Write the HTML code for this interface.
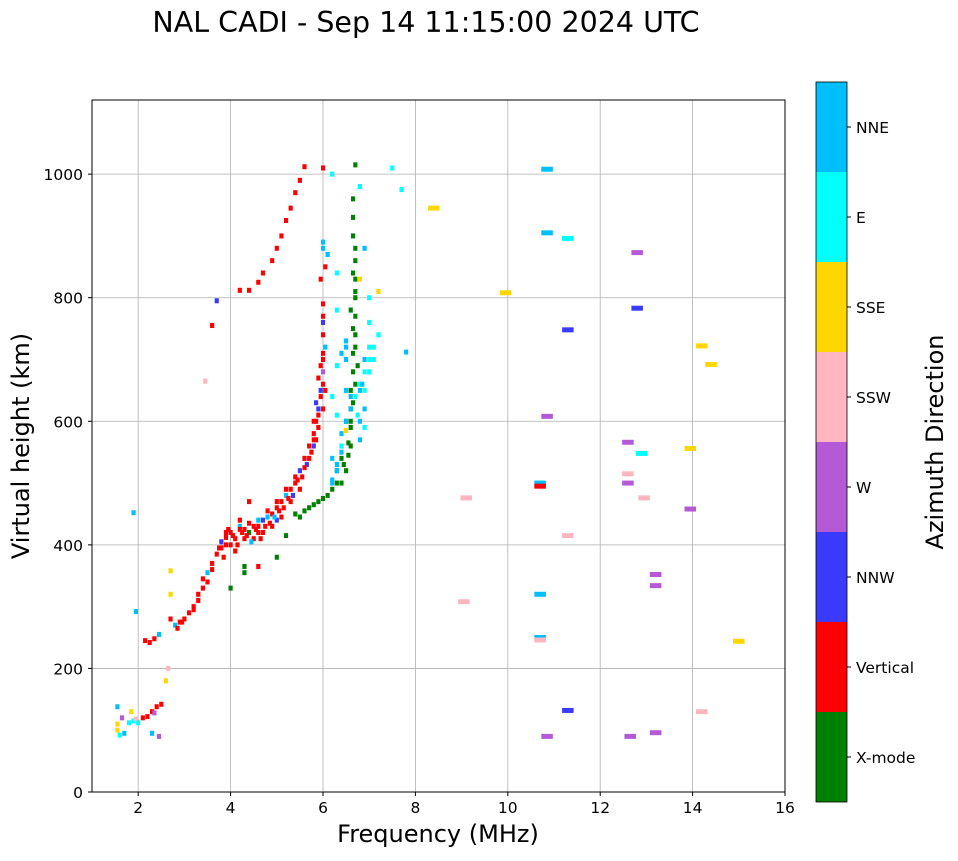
<!DOCTYPE html>
<html><head><meta charset="utf-8">
<style>
body{margin:0;background:#fff;font-family:"DejaVu Sans","Liberation Sans",sans-serif;}
svg text{font-family:"DejaVu Sans","Liberation Sans",sans-serif;}
</style></head>
<body>
<svg id="chart" width="958" height="857" viewBox="0 0 958 857" xmlns="http://www.w3.org/2000/svg">
<rect width="958" height="857" fill="#fff"/>
<text x="426" y="32" font-size="28.5" text-anchor="middle">NAL CADI - Sep 14 11:15:00 2024 UTC</text>
<g id="grid"></g>
<g id="marks"></g>
<rect x="92" y="100" width="693" height="692" fill="none" stroke="#000" stroke-width="1"/>
<g id="axes"></g>
<text x="438" y="842" font-size="24" text-anchor="middle">Frequency (MHz)</text>
<text transform="translate(29,446) rotate(-90)" font-size="24" text-anchor="middle">Virtual height (km)</text>
<g id="cbar"></g>
<text transform="translate(943,442) rotate(-90)" font-size="24" text-anchor="middle">Azimuth Direction</text>
</svg>
<script>
const dirNames=["X-mode","Vertical","NNW","W","SSW","SSE","E","NNE"];
const dirColors=["#008000","#ff0000","#3a3aff","#b55ad6","#ffb6c1","#ffd700","#00ffff","#00bfff"];
const xTicks=[2,4,6,8,10,12,14,16];
const yTicks=[0,200,400,600,800,1000];
const freqs=[1.55,1.55,1.6,1.55,1.65,1.7,1.8,1.9,1.95,2.1,2.2,2.3,2.4,2.5,2.35,2.3,2.45,1.85,2.0,
2.15,2.25,2.35,2.45,2.7,2.8,2.9,3.0,3.1,3.2,3.3,3.4,3.5,3.6,3.7,3.75,3.8,3.9,4.0,4.1,4.2,4.3,4.4,4.5,4.6,4.7,4.8,4.9,5.0,5.1,5.2,5.3,5.4,5.5,5.6,5.7,5.8,5.85,5.9,5.95,6.0,6.0,6.0,6.05,6.0,6.0,6.0,5.95,6.0,6.0,
3.9,4.1,4.3,4.5,4.7,4.9,5.1,5.3,5.5,3.85,4.6,4.2,5.0,5.7,5.8,5.9,6.0,
3.7,3.6,4.2,4.4,4.6,4.7,4.9,5.0,5.1,5.2,5.3,5.4,5.5,5.6,
4.0,4.3,4.3,4.6,5.0,4.4,5.2,
5.4,5.6,5.8,6.0,6.2,6.4,6.5,6.55,6.6,6.6,6.6,6.6,6.65,6.65,6.7,6.7,6.7,6.7,6.7,6.65,6.65,6.65,6.7,6.4,6.5,6.3,
6.2,6.3,6.2,6.4,6.3,6.2,6.5,6.5,6.5,6.3,6.9,6.9,7.0,7.1,7.2,7.0,6.9,6.8,6.8,6.9,6.8,7.0,6.3,6.3,6.2,6.8,7.5,7.7,7.2,7.8,6.8,6.5,6.4,6.1,6.0,
3.95,4.05,4.15,4.25,4.35,4.45,4.55,4.65,4.75,4.85,4.95,5.05,5.15,5.25,5.35,5.45,5.55,5.65,5.75,5.85,5.9,5.95,
3.8,3.9,4.0,4.2,4.4,4.6,4.8,5.0,5.2,5.4,5.6,5.8,3.6,3.5,3.4,3.3,3.2,2.95,2.85,
5.5,5.7,5.9,6.1,6.3,6.45,6.55,6.6,6.65,6.7,6.75,6.7,6.65,6.6,6.7,6.65,6.7,
6.2,6.3,6.4,6.5,6.6,6.7,6.8,6.9,7.0,7.1,6.4,6.5,6.6,6.9,7.0,6.85,6.75,
5.9,5.95,6.0,6.05,5.85,5.8,6.0,6.05,
1.9,1.95,2.6,2.65,2.7,2.7,3.45,8.4,9.95,10.85,10.85,11.3,12.8,12.8,11.3,10.85,10.7,10.7,9.1,9.05,10.7,10.7,10.7,11.3,10.85,11.3,12.6,12.9,12.6,12.6,12.95,13.2,13.2,13.95,13.95,14.2,14.4,15.0,14.2,12.65,13.2];
const heights=[100,110,92,138,120,95,112,115,118,120,122,130,138,142,128,95,90,130,112,
245,242,248,255,280,270,275,280,290,300,320,345,355,370,385,395,405,412,420,410,430,425,420,430,420,440,445,450,460,470,480,490,500,520,540,560,580,600,620,640,660,680,700,720,740,760,790,830,880,1010,
400,390,410,410,420,430,445,470,490,380,440,440,440,540,560,590,620,
795,755,812,812,825,840,860,880,900,925,945,970,990,1012,
330,355,365,365,380,470,415,
450,455,465,475,490,500,520,545,560,590,620,650,680,710,740,770,800,830,860,900,930,960,1015,540,600,520,
505,520,540,580,610,640,650,700,720,690,620,650,680,700,740,760,590,600,650,880,830,800,780,840,1000,980,1010,975,810,712,570,585,560,870,890,
425,415,400,420,415,405,425,410,430,435,445,455,460,475,480,505,510,530,550,570,610,650,
395,420,400,425,435,430,455,470,490,510,525,570,360,340,330,310,295,275,265,
445,460,470,480,500,530,565,600,630,660,690,720,750,780,810,840,880,
500,530,550,600,620,640,660,680,700,720,710,730,640,700,720,660,610,
670,690,710,650,630,600,770,850,
452,292,180,200,358,320,665,945,808,1008,905,896,873,783,748,608,500,495,476,308,320,250,246,132,90,415,566,548,515,500,476,352,334,556,458,722,692,244,130,90,96];
const dirs=[5,5,6,7,3,7,6,6,4,1,1,1,1,1,3,7,3,5,6,
1,1,1,7,1,7,1,1,1,1,1,1,7,1,1,1,2,1,1,1,7,1,0,1,1,2,7,1,1,1,7,1,1,2,1,1,1,1,2,1,1,3,1,7,1,2,1,1,7,1,
1,1,1,1,1,1,1,1,1,1,7,1,2,1,2,1,1,
2,1,1,1,1,1,1,1,1,1,1,1,1,1,
0,0,0,1,0,1,0,
0,0,0,0,0,0,0,0,0,0,0,0,0,0,0,0,0,0,0,0,0,0,0,0,0,0,
7,7,7,7,6,6,7,7,7,6,7,6,6,6,6,6,6,7,7,7,5,6,6,6,6,6,6,6,5,7,7,5,6,7,7,
1,1,1,1,1,7,1,1,1,1,7,1,1,1,2,1,1,2,1,1,1,2,
1,1,1,1,1,1,1,1,1,1,1,1,1,1,1,1,1,1,1,
0,0,0,0,0,0,0,0,0,0,0,0,0,0,0,0,0,
7,7,7,7,7,6,6,6,6,6,7,7,7,7,6,7,6,
1,1,1,1,2,1,1,1,
7,7,5,4,5,5,4,5,5,7,7,6,3,2,2,3,7,1,4,4,7,7,4,2,3,4,3,6,4,3,4,3,3,5,3,5,5,5,4,3,3];
const X0=92,X1=785,Y0=792,Y1=100,FMIN=1,FMAX=16,HMIN=0,HMAX=1120;
const xs=f=>X0+(f-FMIN)/(FMAX-FMIN)*(X1-X0);
const ys=h=>Y0-(h-HMIN)/(HMAX-HMIN)*(Y0-Y1);
const NS="http://www.w3.org/2000/svg";
function mk(tag,attrs,parent){const e=document.createElementNS(NS,tag);for(const k in attrs)e.setAttribute(k,attrs[k]);parent.appendChild(e);return e;}
const grid=document.getElementById('grid'),axes=document.getElementById('axes'),marks=document.getElementById('marks'),cbar=document.getElementById('cbar');
xTicks.forEach(t=>{const x=xs(t);
 const g=mk('line',{x1:x,x2:x,y1:Y1,y2:Y0,stroke:'#b0b0b0','stroke-width':0.8},grid);
 
 
 mk('line',{x1:x,x2:x,y1:Y0,y2:Y0+4,stroke:'#000'},axes);
 const tx=mk('text',{x:x,y:Y0+21,'font-size':15.5,'text-anchor':'middle'},axes);tx.textContent=t;
 
 
});
yTicks.forEach(t=>{const y=ys(t);
 const g=mk('line',{x1:X0,x2:X1,y1:y,y2:y,stroke:'#b0b0b0','stroke-width':0.8},grid);
 
 
 mk('line',{x1:X0-4,x2:X0,y1:y,y2:y,stroke:'#000'},axes);
 const tx=mk('text',{x:X0-9,y:y+6,'font-size':15.5,'text-anchor':'end'},axes);tx.textContent=t;
 
 
});
for(let i=0;i<freqs.length;i++){
 const span=freqs[i]>7.9?0.25:0.09;
 const x=xs(freqs[i]-span/2),w=xs(freqs[i]+span/2)-x;
 const r=mk('rect',{x:x,y:ys(heights[i])-2.5,width:w,height:5,fill:dirColors[dirs[i]]},marks);
 
 
}
const CB_TOP=82,CB_BOT=802,CBX=816,CBW=31,seg=(CB_BOT-CB_TOP)/dirNames.length;
dirNames.forEach((n,i)=>{const y=CB_BOT-(i+1)*seg;
 const r=mk('rect',{x:CBX,y:y,width:CBW,height:seg,fill:dirColors[i]},cbar);
 
 
 mk('line',{x1:CBX+CBW,x2:CBX+CBW+4,y1:y+seg/2,y2:y+seg/2,stroke:'#000'},cbar);
 const t=mk('text',{x:CBX+CBW+9,y:y+seg/2+6,'font-size':15.5},cbar);t.textContent=n;
 
 
});
mk('rect',{x:CBX,y:CB_TOP,width:CBW,height:CB_BOT-CB_TOP,fill:'none',stroke:'#000','stroke-width':0.8},cbar);
</script>
</body></html>
